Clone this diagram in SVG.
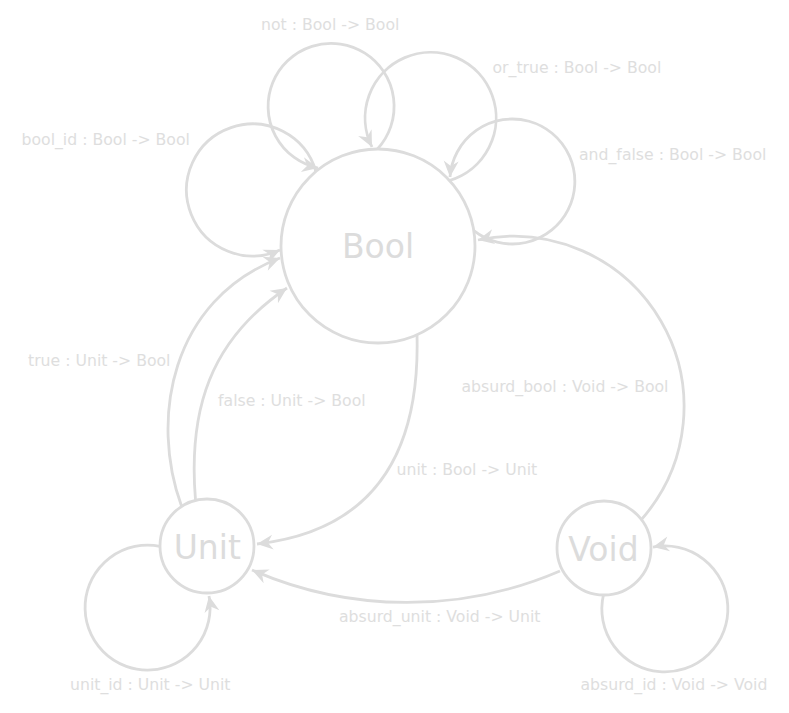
<svg xmlns="http://www.w3.org/2000/svg" width="789" height="713" viewBox="0 0 789 713">
<style>
.edge{fill:none;stroke:#dcdcdc;stroke-width:2.8;marker-end:url(#arr)}
.node{fill:#ffffff;stroke:#dcdcdc;stroke-width:2.8}
.nlabel{font-family:"DejaVu Sans",sans-serif;font-size:33px;fill:#dcdcdc;text-anchor:middle}
.elabel{font-family:"DejaVu Sans",sans-serif;font-size:15.7px;fill:#dedede}
</style>
<defs>
<marker id="arr" viewBox="-18 -9 19 18" refX="0" refY="0" markerWidth="19" markerHeight="18" markerUnits="userSpaceOnUse" orient="auto">
<path d="M0,0 L-16,-7.5 L-11,0 L-16,7.5 Z" fill="#dcdcdc"/>
</marker>
</defs>
<rect width="789" height="713" fill="#ffffff"/>
<g id="connectors">
<path id="e-bool_id" class="edge" d="M315.9,171.5 A66,66 0 1,0 280,250"/>
<path id="e-not" class="edge" d="M377.5,149 A63,63 0 1,0 318,168"/>
<path id="e-or_true" class="edge" d="M449.5,180.5 A65.5,65.5 0 1,0 372,147"/>
<path id="e-and_false" class="edge" d="M473.8,230.7 A62.5,62.5 0 1,0 450,177"/>
<path id="e-true" class="edge" d="M181.5,506 C150,420 170,300 280,258"/>
<path id="e-false" class="edge" d="M195.5,500 C188,410 210,340 287,288"/>
<path id="e-unit" class="edge" d="M417,335 Q422,525 257,544"/>
<path id="e-absurd_bool" class="edge" d="M641,520 A170.5,170.5 0 0,0 478,240"/>
<path id="e-absurd_unit" class="edge" d="M560,571 A387,387 0 0,1 252,570"/>
<path id="e-unit_id" class="edge" d="M160,546.3 A62.5,62.5 0 1,0 209,596"/>
<path id="e-absurd_id" class="edge" d="M603.4,595 A63,63 0 1,0 653,547"/>
</g>
<g id="edge-labels">
<text class="elabel" x="261" y="30">not : Bool -&gt; Bool</text>
<text class="elabel" x="492.5" y="73">or_true : Bool -&gt; Bool</text>
<text class="elabel" x="21.5" y="145">bool_id : Bool -&gt; Bool</text>
<text class="elabel" x="579" y="160">and_false : Bool -&gt; Bool</text>
<text class="elabel" x="28" y="366">true : Unit -&gt; Bool</text>
<text class="elabel" x="218" y="406">false : Unit -&gt; Bool</text>
<text class="elabel" x="461.5" y="391.5">absurd_bool : Void -&gt; Bool</text>
<text class="elabel" x="396.5" y="475">unit : Bool -&gt; Unit</text>
<text class="elabel" x="339" y="621.5">absurd_unit : Void -&gt; Unit</text>
<text class="elabel" x="70" y="690">unit_id : Unit -&gt; Unit</text>
<text class="elabel" x="580.5" y="689.5">absurd_id : Void -&gt; Void</text>
</g>
<g id="node-Bool">
<circle class="node" cx="378" cy="246" r="97"/>
<text class="nlabel" x="378" y="258">Bool</text>
</g>
<g id="node-Unit">
<circle class="node" cx="207" cy="546" r="47"/>
<text class="nlabel" x="207.3" y="559">Unit</text>
</g>
<g id="node-Void">
<circle class="node" cx="604" cy="548" r="47"/>
<text class="nlabel" x="603.5" y="560.5">Void</text>
</g>
</svg>
